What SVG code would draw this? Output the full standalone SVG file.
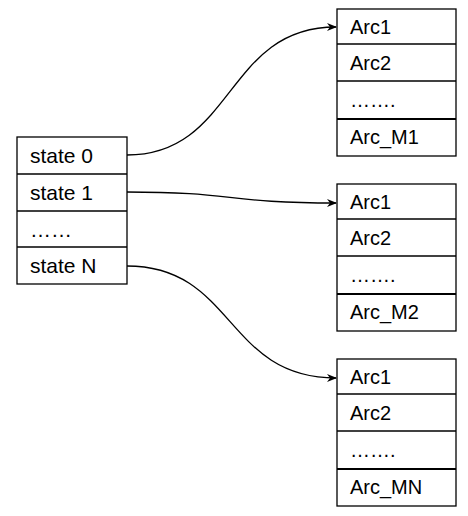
<svg xmlns="http://www.w3.org/2000/svg" width="468" height="516" viewBox="0 0 468 516">
<style>
.box{fill:#fff;stroke:#000;stroke-width:1.3}
.sep{stroke:#000;stroke-width:1.3}
.sep2{stroke:#000;stroke-width:2.2}
text{font-family:"Liberation Sans",Arial,sans-serif;font-size:20px;fill:#000}
.st{font-size:21px}
.edge{fill:none;stroke:#000;stroke-width:1.3;marker-end:url(#arr)}
</style>
<defs>
<marker id="arr" viewBox="0 0 10 10" refX="9" refY="5" markerWidth="10" markerHeight="10" markerUnits="userSpaceOnUse" orient="auto">
<path d="M0,1 L10,5 L0,9 L3,5 Z" fill="#000"/>
</marker>
</defs>
<g id="states">
<rect class="box" x="17" y="137" width="110" height="147"/>
<line class="sep" x1="17" y1="174" x2="127" y2="174"/>
<line class="sep" x1="17" y1="211" x2="127" y2="211"/>
<line class="sep" x1="17" y1="247" x2="127" y2="247"/>
<text class="st" x="30" y="163">state 0</text>
<text class="st" x="30" y="200">state 1</text>
<text class="st" x="30" y="237">……</text>
<text class="st" x="30" y="273">state N</text>
</g>
<g id="arcs1">
<rect class="box" x="337" y="9" width="119" height="147"/>
<line class="sep" x1="337" y1="44" x2="456" y2="44"/>
<line class="sep" x1="337" y1="81" x2="456" y2="81"/>
<line class="sep2" x1="337" y1="119" x2="456" y2="119"/>
<text x="350" y="34">Arc1</text>
<text x="350" y="70">Arc2</text>
<text x="350" y="107">…….</text>
<text x="350" y="144">Arc_M1</text>
</g>
<g id="arcs2">
<rect class="box" x="337" y="184" width="119" height="147"/>
<line class="sep" x1="337" y1="219" x2="456" y2="219"/>
<line class="sep" x1="337" y1="256" x2="456" y2="256"/>
<line class="sep2" x1="337" y1="294" x2="456" y2="294"/>
<text x="350" y="209">Arc1</text>
<text x="350" y="245">Arc2</text>
<text x="350" y="282">…….</text>
<text x="350" y="319">Arc_M2</text>
</g>
<g id="arcs3">
<rect class="box" x="337" y="359" width="119" height="147"/>
<line class="sep" x1="337" y1="394" x2="456" y2="394"/>
<line class="sep" x1="337" y1="431" x2="456" y2="431"/>
<line class="sep2" x1="337" y1="469" x2="456" y2="469"/>
<text x="350" y="384">Arc1</text>
<text x="350" y="420">Arc2</text>
<text x="350" y="457">…….</text>
<text x="350" y="494">Arc_MN</text>
</g>
<g id="connectors">
<path class="edge" d="M127,155 C235,155 225,27 336,27"/>
<path class="edge" d="M127,192 C235,192 225,203 336,203"/>
<path class="edge" d="M127,266 C235,266 225,378 336,378"/>
</g>
</svg>
